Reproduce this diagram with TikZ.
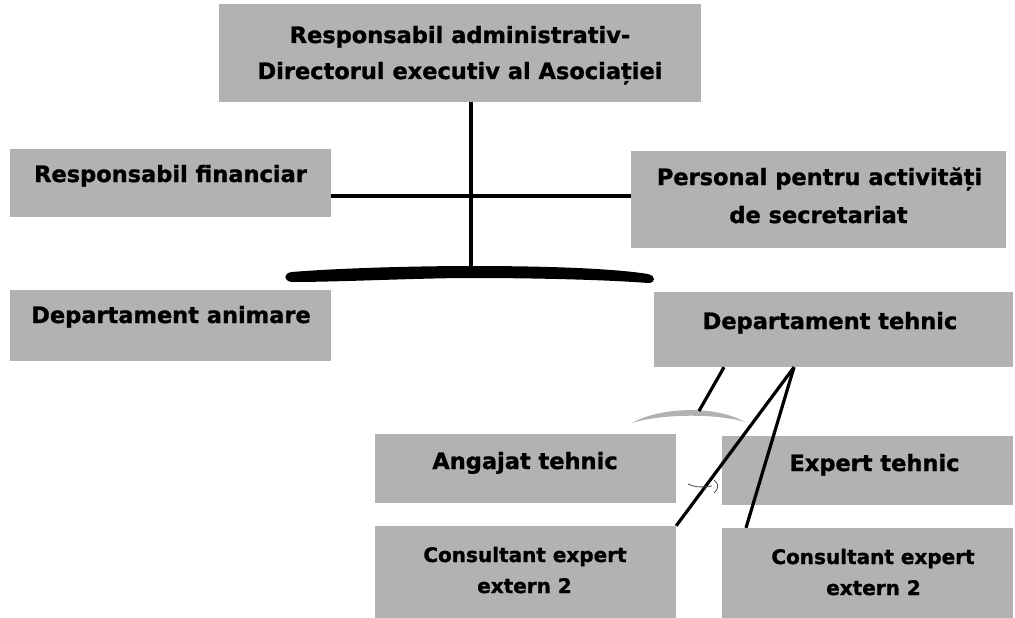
\documentclass[tikz,border=0pt]{standalone}
\usepackage{fontspec}
\setmainfont{DejaVu Sans}[BoldFeatures={FakeBold=1.2}]
\definecolor{boxgray}{gray}{0.70}
\begin{document}
\begin{tikzpicture}[x=1pt,y=-1pt,
  box/.style={draw=none, fill=boxgray, inner sep=0pt, rectangle},
  lbl/.style={anchor=base, inner sep=0pt, font=\fontsize{22.5}{27}\selectfont\bfseries},
  lbls/.style={anchor=base, inner sep=0pt, font=\fontsize{20}{24}\selectfont\bfseries},
  conn/.style={draw=black, line width=3.4pt},
  fan/.style={draw=black, line width=3.2pt}]
\fill[white] (0,0) rectangle (1015,618);
\useasboundingbox (0,0) rectangle (1015,618);

% boxes
\node[box, minimum width=482pt, minimum height=98pt] (top) at (460,53) {};
\node[box, minimum width=321pt, minimum height=68pt] (fin) at (170.5,183) {};
\node[box, minimum width=375pt, minimum height=97pt] (pers) at (818.5,199.5) {};
\node[box, minimum width=321pt, minimum height=71pt] (anim) at (170.5,325.5) {};
\node[box, minimum width=359pt, minimum height=75pt] (teh) at (833.5,329.5) {};
\node[box, minimum width=301pt, minimum height=69pt] (ang) at (525.5,468.5) {};
\node[box, minimum width=291pt, minimum height=69pt] (exp) at (867.5,470.5) {};
\node[box, minimum width=301pt, minimum height=92pt] (conL) at (525.5,572) {};
\node[box, minimum width=291pt, minimum height=90pt] (conR) at (867.5,573) {};

% texts
\node[lbl] (topA) at (460,43) {Responsabil administrativ-};
\node[lbl] (topB) at (460,79) {Directorul executiv al Asociației};
\node[lbl] (finT) at (170.5,182) {Responsabil financiar};
\node[lbl] (persA) at (819.5,185) {Personal pentru activități};
\node[lbl] (persB) at (818.5,223) {de secretariat};
\node[lbl] (animT) at (171,323) {Departament animare};
\node[lbl] (tehT) at (830,329) {Departament tehnic};
\node[lbl] (angT) at (525,469) {Angajat tehnic};
\node[lbl] (expT) at (874.5,471) {Expert tehnic};
\node[lbls] (conLA) at (525,562) {Consultant expert};
\node[lbls] (conLB) at (524.5,593) {extern 2};
\node[lbls] (conRA) at (873,564) {Consultant expert};
\node[lbls] (conRB) at (873.5,595) {extern 2};

% helper coordinates
\coordinate (hy) at (0,196);
\coordinate (vx) at (471,0);
\coordinate (brc) at (471,268);
\coordinate (s1) at (724,0);
\coordinate (s2) at (699,411);
\coordinate (apx) at (794,0);
\coordinate (fr) at (746,0);

% connectors
\draw[conn] (fin.east |- hy) -- (pers.west |- hy);
\draw[conn] (top.south -| vx) -- (brc);

% thick curved bar
\fill[black] (292,272) .. controls (340,268) and (420,266) .. (471,266)
  .. controls (540,266) and (610,268) .. (648,274)
  .. controls (656,276) and (656,283) .. (648,283)
  .. controls (610,280) and (540,278) .. (471,278)
  .. controls (420,278) and (340,282) .. (292,282)
  .. controls (283,281) and (283,273) .. cycle;

% grey arc under Departament tehnic
\fill[boxgray] (632,423) .. controls (660,407) and (715,405) .. (745,422)
  .. controls (715,413) and (660,414) .. cycle;

\draw[fan] (teh.south -| s1) -- (s2);
\draw[fan] (teh.south -| apx) -- (conL.north east);
\draw[fan] (teh.south -| apx) -- (conR.north -| fr);

% small stray mark
\draw[black!70, line width=0.8pt] (688,484) .. controls (696,488) and (704,487) .. (712,486);
\draw[black!70, line width=0.8pt] (714,480) .. controls (719,484) and (719,489) .. (714,493);
\end{tikzpicture}
\end{document}
